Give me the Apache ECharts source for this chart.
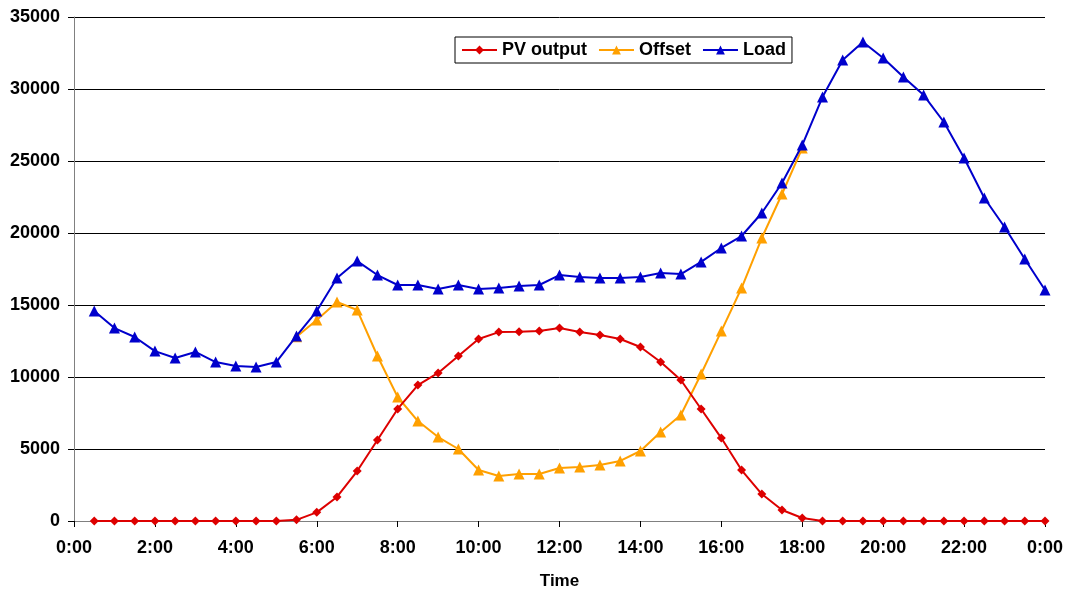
<!DOCTYPE html>
<html><head><meta charset="utf-8">
<script src="https://cdn.jsdelivr.net/npm/echarts@6/dist/echarts.min.js"></script>
<style>html,body{margin:0;padding:0;background:#fff}#c{width:1072px;height:593px}</style>
</head><body><div id="c"></div>
<script>
const times = ['0:30','1:00','1:30','2:00','2:30','3:00','3:30','4:00','4:30','5:00','5:30','6:00','6:30','7:00','7:30','8:00','8:30','9:00','9:30','10:00','10:30','11:00','11:30','12:00','12:30','13:00','13:30','14:00','14:30','15:00','15:30','16:00','16:30','17:00','17:30','18:00','18:30','19:00','19:30','20:00','20:30','21:00','21:30','22:00','22:30','23:00','23:30','0:00'];
const pvOutput = [0,0,0,0,0,0,0,0,0,0,80,600,1670,3470,5620,7780,9440,10280,11460,12640,13120,13150,13200,13400,13120,12920,12640,12080,11040,9790,7780,5760,3540,1870,760,210,0,0,0,0,0,0,0,0,0,0,0,0];
const offset = [null,null,null,null,null,null,null,null,null,null,12800,13960,15210,14650,11460,8610,6940,5830,5000,3540,3120,3260,3260,3680,3750,3890,4170,4860,6180,7360,10210,13190,16180,19650,22710,25900,null,null,null,null,null,null,null,null,null,null,null,null];
const load = [14580,13400,12780,11800,11320,11740,11040,10760,10690,11040,12850,14580,16870,18050,17080,16390,16390,16110,16390,16110,16180,16320,16390,17080,16940,16870,16870,16940,17220,17150,17990,18960,19790,21390,23470,26110,29440,32010,33260,32150,30830,29580,27710,25210,22430,20420,18190,16040];

function toHour(t, i){ const [h,m]=t.split(':').map(Number); let v=h+m/60; if(i===times.length-1 && v===0) v=24; return v; }
const xs = times.map(toHour);
const pair = arr => arr.map((v,i)=>[xs[i], v]);

const font = 'Liberation Sans, Arial, sans-serif';
const chart = echarts.init(document.getElementById('c'), null, {renderer:'canvas'});
chart.setOption({
  animation:false,
  backgroundColor:'#fff',
  grid:{left:74,right:27,top:17,bottom:72,containLabel:false,outerBoundsMode:'none'},
  legend:{
    left:455, top:37, padding:[4,6,4,6],
    borderColor:'#000', borderWidth:1,
    itemWidth:35, itemHeight:11, itemGap:11,
    textStyle:{fontFamily:font,fontWeight:'bold',fontSize:18,color:'#000'},
    data:['PV output','Offset','Load']
  },
  xAxis:{
    type:'value', min:0, max:24, interval:2,
    name:'Time', nameLocation:'middle', nameGap:52,
    nameTextStyle:{fontFamily:font,fontWeight:'bold',fontSize:17,color:'#000'},
    axisLine:{lineStyle:{color:'#808080',width:1}},
    axisTick:{show:true,length:6,lineStyle:{color:'#000'}},
    axisLabel:{fontFamily:font,fontWeight:'bold',fontSize:18,color:'#000',margin:18,
      formatter:v=>(Math.round(v)%24)+':00'},
    splitLine:{show:false}
  },
  yAxis:{
    type:'value', min:0, max:35000, interval:5000,
    axisLine:{show:true,lineStyle:{color:'#808080',width:1}},
    axisTick:{show:true,length:6,lineStyle:{color:'#000'}},
    axisLabel:{fontFamily:font,fontWeight:'bold',fontSize:18,color:'#000',margin:14,
      formatter:v=>String(v)},
    splitLine:{show:true,lineStyle:{color:'#000',width:1}}
  },
  series:[
    {name:'PV output',type:'line',data:pair(pvOutput),symbol:'diamond',symbolSize:9,
     itemStyle:{color:'#DD0000'},lineStyle:{color:'#DD0000',width:2},z:3},
    {name:'Offset',type:'line',data:pair(offset),symbol:'triangle',symbolSize:11,connectNulls:false,
     itemStyle:{color:'#FFA000'},lineStyle:{color:'#FFA000',width:2},z:2},
    {name:'Load',type:'line',data:pair(load),symbol:'triangle',symbolSize:11,
     itemStyle:{color:'#0000CC'},lineStyle:{color:'#0000CC',width:2},z:4}
  ]
});
</script></body></html>
